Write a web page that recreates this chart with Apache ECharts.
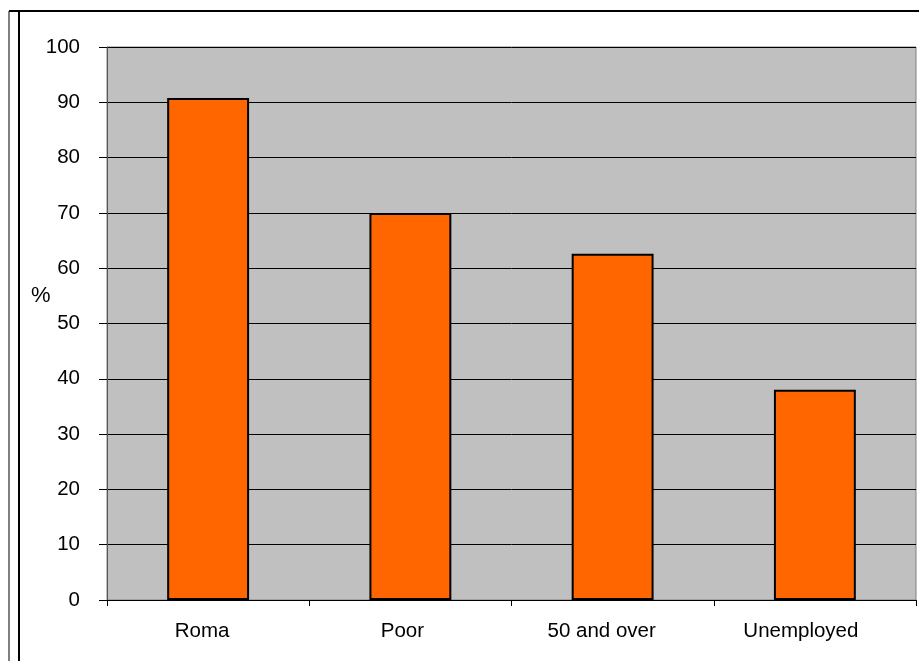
<!DOCTYPE html>
<html>
<head>
<meta charset="utf-8">
<script src="https://cdn.jsdelivr.net/npm/echarts@6/dist/echarts.min.js"></script>
<style>
html,body{margin:0;padding:0;background:#fff;}
#chart{width:919px;height:661px;}
</style>
</head>
<body>
<div id="chart"></div>
<script>
var categories = ["Roma", "Poor", "50 and over", "Unemployed"];
var shares = [90.8, 70.0, 62.6, 38.0];
var yTicks = [0, 100, 10];

// the original's category labels sit a bit left of the slot centres
var labelShift = [12, 16, 22, 28];
var labelFont = {color: '#000', fontFamily: 'Liberation Sans', fontSize: 20.5};
var rich = {};
for (var i = 0; i < labelShift.length; i++) {
    rich['c' + i] = Object.assign({padding: [0, labelShift[i], 0, 0]}, labelFont);
}

var myChart = echarts.init(document.getElementById('chart'));
myChart.setOption({
    animation: false,
    grid: {
        left: 107, top: 47, right: 3, bottom: 61,
        show: true,
        backgroundColor: '#c0c0c0',
        borderColor: '#808080',
        borderWidth: 1
    },
    graphic: [
        // outer frame lines
        {type: 'line', shape: {x1: 9, y1: 11, x2: 9, y2: 661}, style: {stroke: '#000', lineWidth: 1}},
        {type: 'line', shape: {x1: 19, y1: 11, x2: 19, y2: 661}, style: {stroke: '#000', lineWidth: 2}},
        {type: 'line', shape: {x1: 9, y1: 11, x2: 919, y2: 11}, style: {stroke: '#000', lineWidth: 2}},
        {type: 'text', left: 31, top: 285, style: {text: '%', font: '22px "Liberation Sans", Arial', fill: '#000'}}
    ],
    xAxis: [{
        type: 'category',
        data: categories,
        axisLine: {lineStyle: {color: '#000', width: 1}},
        axisTick: {show: true, interval: 0, length: 6, alignWithLabel: false, lineStyle: {color: '#000'}},
        axisLabel: {
            interval: 0,
            hideOverlap: false,
            margin: 21,
            color: '#000',
            fontFamily: 'Liberation Sans',
            fontSize: 20.5,
            formatter: function (v, idx) { return '{c' + idx + '|' + v + '}'; },
            rich: rich
        }
    }],
    yAxis: [{
        type: 'value',
        min: yTicks[0],
        max: yTicks[1],
        interval: yTicks[2],
        axisLine: {show: true, lineStyle: {color: '#555', width: 1}},
        axisTick: {show: true, length: 8, lineStyle: {color: '#000'}},
        axisLabel: {
            margin: 27,
            color: '#000',
            fontFamily: 'Liberation Sans',
            fontSize: 20.5
        },
        splitLine: {show: true, lineStyle: {color: '#000', width: 1}}
    }],
    series: [{
        type: 'bar',
        data: shares,
        barWidth: '40.5%',
        itemStyle: {
            color: '#ff6600',
            borderColor: '#000',
            borderWidth: 2
        }
    }]
});
</script>
</body>
</html>
